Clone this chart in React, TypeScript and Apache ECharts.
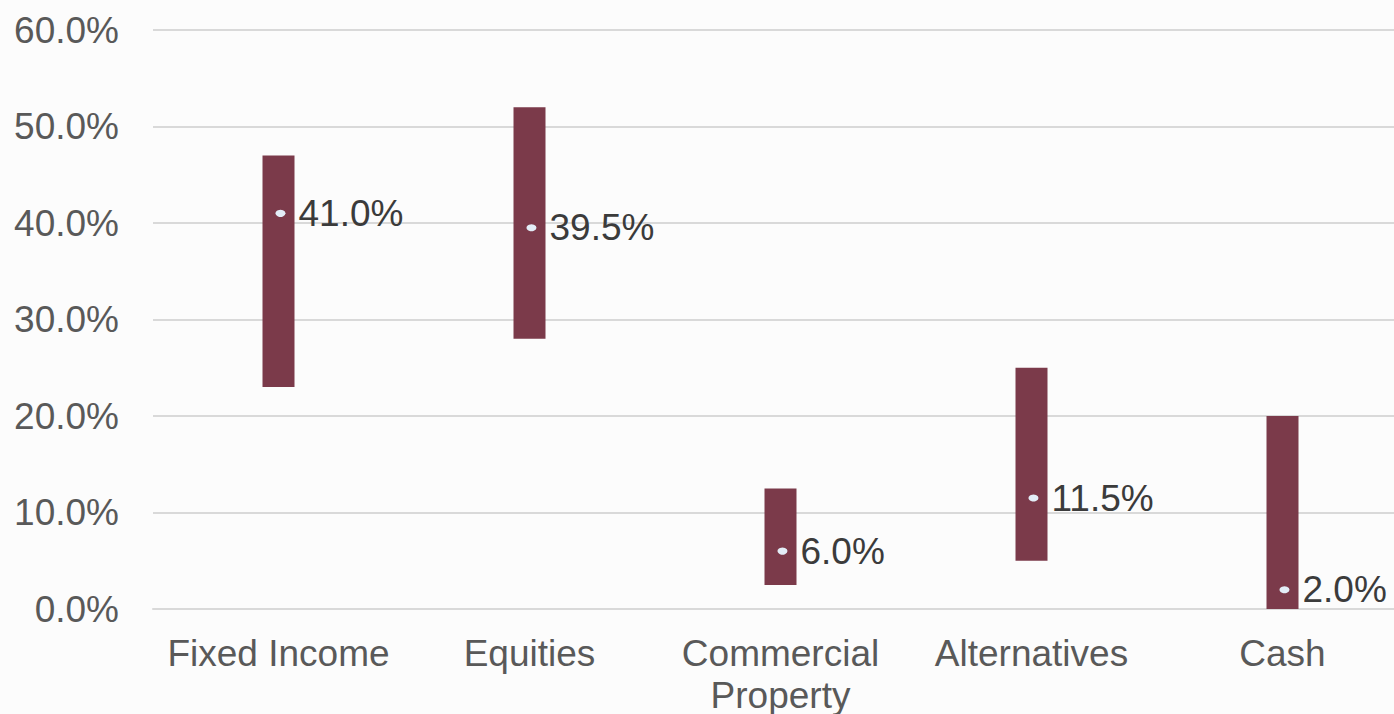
import React, { useEffect, useRef } from "react";
import * as echarts from "echarts";

const categories = ["Fixed Income", "Equities", "Commercial\nProperty", "Alternatives", "Cash"];
const rangeLow = [23, 28, 2.5, 5, 0];
const rangeHigh = [47, 52, 12.5, 25, 20];
const targetValues = [41.0, 39.5, 6.0, 11.5, 2.0];
const yTicks = [0, 10, 20, 30, 40, 50, 60];

export default function App() {
  const ref = useRef<HTMLDivElement>(null);
  useEffect(() => {
    if (!ref.current) return;
    const chart = echarts.init(ref.current, null, { renderer: "svg" });
    const font = "'Liberation Sans', Arial, sans-serif";
    chart.setOption({
      animation: false,
      backgroundColor: "#fcfcfc",
      grid: {
        left: 153,
        right: 0,
        top: 30,
        bottom: 105,
        containLabel: false,
        outerBoundsMode: "none",
      },
      xAxis: {
        type: "category",
        data: categories,
        axisLine: { show: true, lineStyle: { color: "#d9d9d9", width: 2 } },
        axisTick: { show: false },
        axisLabel: {
          color: "#595959",
          fontSize: 37,
          fontFamily: font,
          margin: 23,
          lineHeight: 42,
          interval: 0,
        },
      },
      yAxis: {
        type: "value",
        min: yTicks[0],
        max: yTicks[yTicks.length - 1],
        interval: 10,
        axisLine: { show: false },
        axisTick: { show: false },
        splitLine: { lineStyle: { color: "#d9d9d9", width: 2 } },
        axisLabel: {
          color: "#595959",
          fontSize: 37,
          fontFamily: font,
          margin: 34,
          formatter: (v: number) => v.toFixed(1) + "%",
        },
      },
      series: [
        {
          type: "bar",
          stack: "range",
          data: rangeLow,
          barWidth: 32,
          itemStyle: { color: "transparent" },
          silent: true,
        },
        {
          type: "bar",
          stack: "range",
          data: rangeHigh.map((h, i) => h - rangeLow[i]),
          barWidth: 32,
          itemStyle: { color: "#7b3a4a" },
        },
        {
          type: "scatter",
          data: targetValues,
          symbol: "circle",
          symbolSize: [10, 7],
          symbolOffset: [2, 0],
          itemStyle: { color: "#e3edf7", opacity: 1 },
          z: 5,
          label: {
            show: true,
            position: "right",
            distance: 13,
            color: "#3b3b3b",
            fontSize: 37,
            fontFamily: font,
            formatter: (p: any) => p.value.toFixed(1) + "%",
          },
        },
      ],
    });
    return () => chart.dispose();
  }, []);
  return (
    <div style={{ position: "fixed", left: 0, top: 0, width: 1394, height: 714, overflow: "hidden" }}>
      <div ref={ref} style={{ width: 1408, height: 714 }} />
    </div>
  );
}
